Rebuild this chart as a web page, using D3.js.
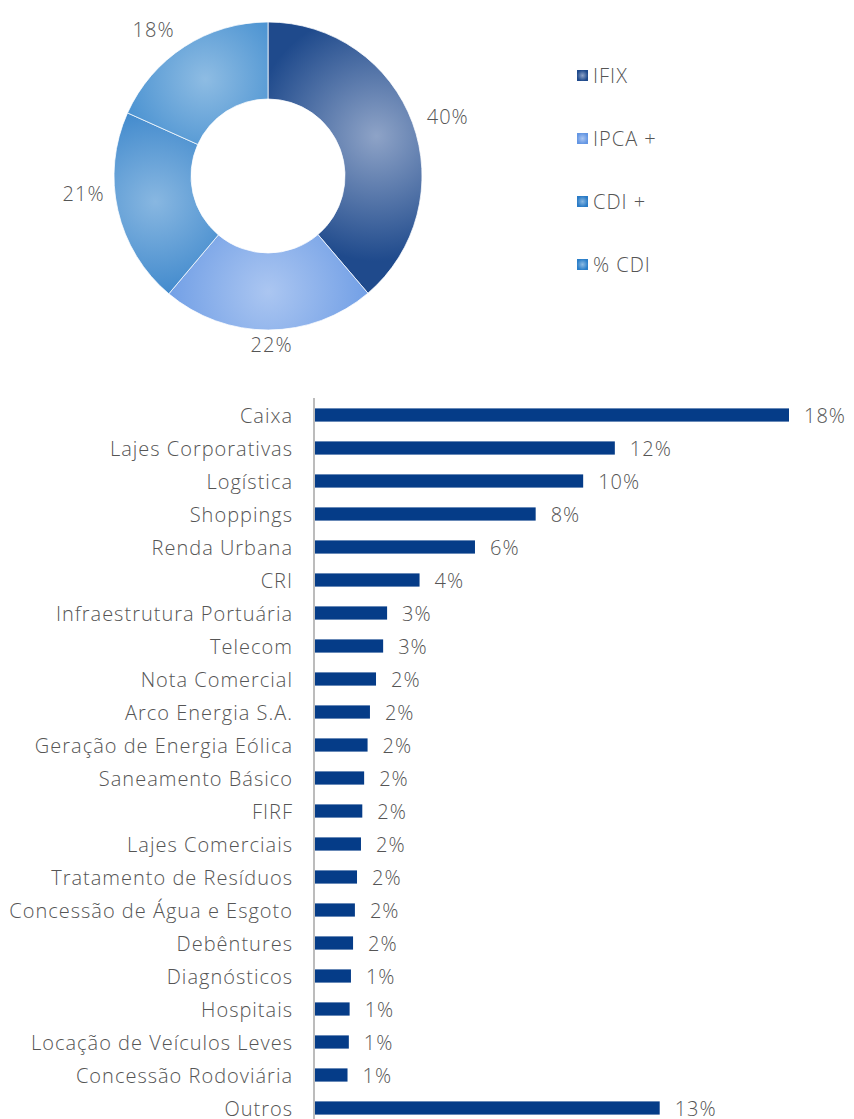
<!DOCTYPE html>
<html>
<head>
<meta charset="utf-8">
<script src="https://cdn.jsdelivr.net/npm/d3@7"></script>
<style>
  body { margin: 0; background: #fff; }
  svg text { font-family: "Open Sans", Lato, sans-serif; font-weight: 300; fill: #555; letter-spacing: 1px; }
</style>
</head>
<body>
<div id="chart"></div>
<script>
// donut data
const pieNames = ["IFIX", "IPCA +", "CDI +", "% CDI"];
const pieValues = [38.8, 22.4, 20.6, 18.3];
const pieLabels = ["40%", "22%", "21%", "18%"];
const pieEdge = ["#1f4a8c", "#6496e3", "#2a7bc6", "#2b7fc9"];
const pieCenter = ["#8ea3c7", "#abc6f1", "#88b7e1", "#8ebce3"];

// bar data
const barCats = ["Caixa", "Lajes Corporativas", "Logística", "Shoppings", "Renda Urbana", "CRI",
  "Infraestrutura Portuária", "Telecom", "Nota Comercial", "Arco Energia S.A.",
  "Geração de Energia Eólica", "Saneamento Básico", "FIRF", "Lajes Comerciais",
  "Tratamento de Resíduos", "Concessão de Água e Esgoto", "Debêntures", "Diagnósticos",
  "Hospitais", "Locação de Veículos Leves", "Concessão Rodoviária", "Outros"];
const barValues = [18.0, 11.4, 10.2, 8.4, 6.1, 4.0, 2.77, 2.62, 2.35, 2.12, 2.03, 1.9, 1.83,
  1.78, 1.63, 1.55, 1.48, 1.40, 1.35, 1.32, 1.27, 13.1];
const barLabels = ["18%", "12%", "10%", "8%", "6%", "4%", "3%", "3%", "2%", "2%", "2%", "2%",
  "2%", "2%", "2%", "2%", "2%", "1%", "1%", "1%", "1%", "13%"];

const W = 854, H = 1119;
const FS = "20px";
const svg = d3.select("#chart").append("svg").attr("width", W).attr("height", H);
const defs = svg.append("defs");

// ---- donut ----
const cx = 268, cy = 176, rOut = 154, rIn = 77;
const pie = d3.pie().sort(null).value(d => d)(pieValues);
const arc = d3.arc().innerRadius(rIn).outerRadius(rOut);
const labelArc = d3.arc().innerRadius(183).outerRadius(183);

pie.forEach((p, i) => {
  // gradient is in the donut group's coordinates
  const [gx, gy] = arc.centroid(p);
  const g = defs.append("radialGradient")
    .attr("id", "sl" + i)
    .attr("gradientUnits", "userSpaceOnUse")
    .attr("cx", gx).attr("cy", gy).attr("r", 125);
  g.append("stop").attr("offset", "0%").attr("stop-color", pieCenter[i]);
  g.append("stop").attr("offset", "100%").attr("stop-color", pieEdge[i]);

  const lg = defs.append("radialGradient").attr("id", "lg" + i);
  lg.append("stop").attr("offset", "0%").attr("stop-color", pieCenter[i]);
  lg.append("stop").attr("offset", "100%").attr("stop-color", pieEdge[i]);
});

const donut = svg.append("g").attr("transform", `translate(${cx},${cy})`);
donut.selectAll("path")
  .data(pie)
  .join("path")
  .attr("d", arc)
  .attr("fill", (d, i) => `url(#sl${i})`)
  .attr("stroke", "#fff")
  .attr("stroke-width", 0.75);

// small nudges so labels sit where the original puts them
const labelNudge = [[8, 4], [3, -14], [-6, -23], [-15, 7]];
donut.selectAll("text.pct")
  .data(pie)
  .join("text")
  .attr("class", "pct")
  .attr("x", (d, i) => labelArc.centroid(d)[0] + labelNudge[i][0])
  .attr("y", (d, i) => labelArc.centroid(d)[1] + labelNudge[i][1])
  .attr("text-anchor", "middle")
  .attr("dominant-baseline", "central")
  .style("font-size", FS)
  .text((d, i) => pieLabels[i]);

// legend
const legend = svg.append("g").attr("transform", "translate(577,75)");
const li = legend.selectAll("g").data(pieNames).join("g")
  .attr("transform", (d, i) => `translate(0,${i * 63})`);
li.append("rect").attr("x", 0).attr("y", -5).attr("width", 11).attr("height", 11)
  .attr("fill", (d, i) => `url(#lg${i})`);
li.append("text").attr("x", 16).attr("y", 0).attr("dominant-baseline", "central")
  .style("font-size", FS).text(d => d);

// ---- bars ----
const x0 = 314;
const x = d3.scaleLinear().domain([0, 18]).range([x0, x0 + 475]);
const y = d3.scaleBand().domain(barCats).range([398.5, 1124.5])
  .paddingInner(0.6).paddingOuter(0.3);

svg.selectAll("rect.bar")
  .data(barCats)
  .join("rect")
  .attr("class", "bar")
  .attr("x", x(0) + 1)
  .attr("y", d => y(d))
  .attr("width", (d, i) => x(barValues[i]) - x(0) - 1)
  .attr("height", y.bandwidth())
  .attr("fill", "#053c88");

svg.selectAll("text.val")
  .data(barCats)
  .join("text")
  .attr("class", "val")
  .attr("x", (d, i) => x(barValues[i]) + 15)
  .attr("y", d => y(d) + y.bandwidth() / 2)
  .attr("dominant-baseline", "central")
  .style("font-size", FS)
  .text((d, i) => barLabels[i]);

const axis = svg.append("g")
  .attr("transform", `translate(${x0},0)`)
  .call(d3.axisLeft(y).tickSize(0).tickPadding(21));
axis.select(".domain").attr("stroke", "#a6a6a6").attr("stroke-width", 1.5)
  .attr("d", `M0,398V${H}`);
axis.selectAll("text")
  .attr("dy", null)
  .attr("dominant-baseline", "central")
  .style("font-size", FS)
  .style("font-family", "'Open Sans', Lato, sans-serif")
  .style("font-weight", 300)
  .style("letter-spacing", "1px")
  .attr("fill", "#555");
</script>
</body>
</html>
